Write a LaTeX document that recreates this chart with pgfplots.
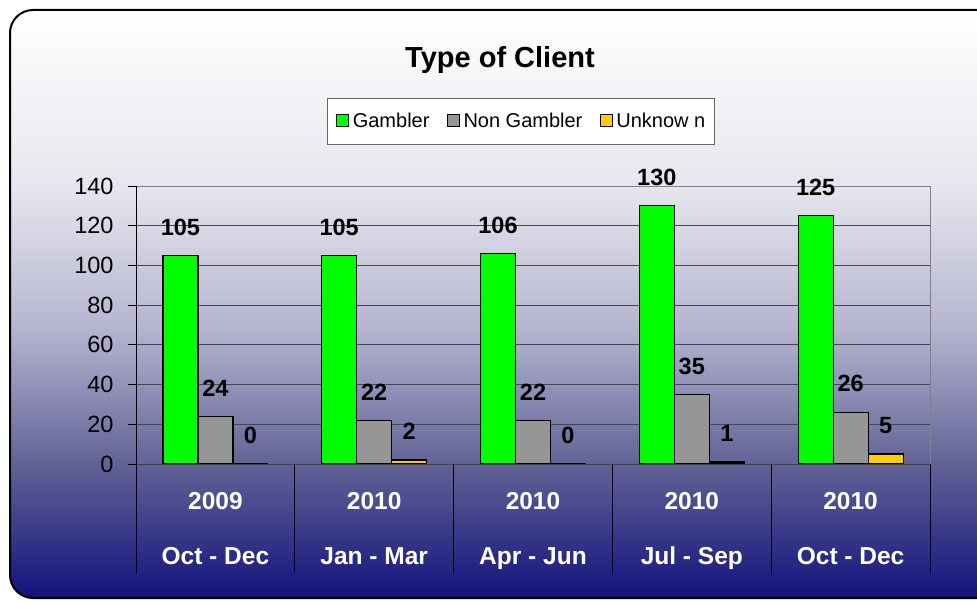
\documentclass[border=0pt]{standalone}
\usepackage{pgfplots}
\pgfplotsset{compat=1.18}
\usepackage{fontspec}
\setmainfont{Liberation Sans}
\definecolor{cA}{RGB}{18,18,125}
\definecolor{cB}{RGB}{98,98,150}
\definecolor{cC}{RGB}{180,180,208}
\definecolor{cD}{RGB}{230,230,238}
\definecolor{gamb}{RGB}{0,255,0}
\definecolor{nong}{RGB}{150,150,150}
\definecolor{unk}{RGB}{255,204,0}
\pgfdeclareverticalshading{bgshade}{100bp}{color(0bp)=(cA); color(25bp)=(cA); color(36.4bp)=(cB); color(47.8bp)=(cC); color(60bp)=(cD); color(75bp)=(white); color(100bp)=(white)}
\begin{document}
\begin{tikzpicture}[x=1pt,y=1pt]
\useasboundingbox (0,0) rectangle (977,603);
\shadedraw[shading=bgshade, draw=black, line width=2pt, rounded corners=23pt] (10,5) rectangle (1000,593);
\node[font=\bfseries\fontsize{29}{29}\selectfont, anchor=base] at (500,535) {Type of Client};
\begin{axis}[
  at={(136pt,139pt)}, anchor=south west,
  scale only axis, width=794pt, height=278pt,
  xmin=-0.5, xmax=4.5, ymin=0, ymax=140,
  ytick={0,20,...,140},
  xtick={0,1,2,3,4},
  xticklabels={{2009\\Oct - Dec},{2010\\Jan - Mar},{2010\\Apr - Jun},{2010\\Jul - Sep},{2010\\Oct - Dec}},
  /pgf/number format/assume math mode=true,
  ybar=0pt, bar width=35pt,
  clip=false,
  axis line style={draw=black!50, line width=0.9pt},
  ymajorgrids, major grid style={black!72, line width=0.8pt},
  tick align=outside, major tick length=8pt,
  ytick pos=left,
  ytick style={black, line width=0.8pt},
  xtick style={draw=none},
  yticklabel style={font=\fontsize{23.5}{23.5}\selectfont, xshift=-11pt},
  xticklabel style={font=\bfseries\fontsize{24.5}{55}\selectfont, text=white, align=center, anchor=north, yshift=-17pt},
  nodes near coords,
  every node near coord/.append style={font=\bfseries\fontsize{23.5}{23.5}\selectfont, anchor=center, yshift=28.5pt, text=black},
  legend columns=3,
  legend style={at={(0.485,1.234)}, anchor=center, draw=black!60, fill=white, line width=0.8pt,
    font=\fontsize{20}{20}\selectfont, inner xsep=7pt, inner ysep=13pt,
    /tikz/every odd column/.append style={column sep=0pt},
    /tikz/every even column/.append style={column sep=14pt}},
  legend image code/.code={\path[draw=none,fill=none] (0pt,0pt) -- (16pt,0pt); \draw[#1,draw=black,line width=0.9pt] (2pt,-6pt) rectangle (14pt,6pt);},
]
\addplot[fill=gamb, draw=black, line width=1.2pt] coordinates {(0,105) (1,105) (2,106) (3,130) (4,125)};
\addplot[fill=nong, draw=black, line width=1.2pt] coordinates {(0,24) (1,22) (2,22) (3,35) (4,26)};
\addplot[fill=unk, draw=black, line width=1.2pt] coordinates {(0,0) (1,2) (2,0) (3,1) (4,5)};
\legend{Gambler, Non Gambler, Unknow n}
\draw[black, line width=0.9pt] (rel axis cs:0,0) -- (rel axis cs:0,1);
\draw[black!75, line width=1pt] (rel axis cs:0,0) -- (rel axis cs:1,0);
\pgfplotsinvokeforeach{-0.5,0.5,1.5,2.5,3.5,4.5}{\draw[black, line width=0.9pt] (axis cs:#1,0) -- ([yshift=-109pt]axis cs:#1,0);}
\end{axis}
\end{tikzpicture}
\end{document}
